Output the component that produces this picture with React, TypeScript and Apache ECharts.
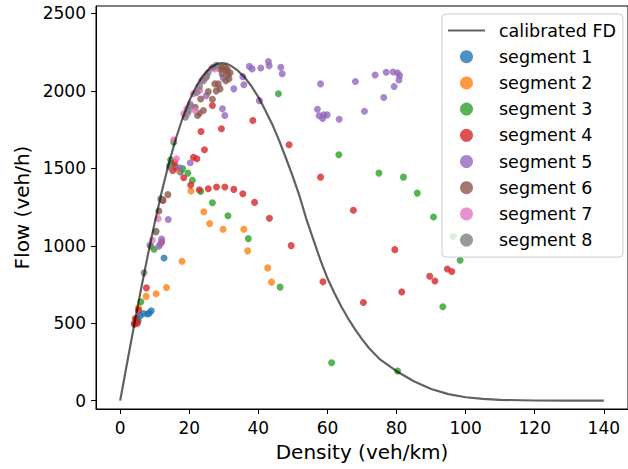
import React, { useEffect, useRef } from "react";
import * as echarts from "echarts";

// calibrated fundamental diagram curve
const fdDensity = [0, 2, 4, 6, 8, 10, 12, 14, 16, 18, 20, 22, 24, 26, 28, 29.5, 31, 32, 34, 36, 38, 40, 42, 44, 46, 48, 50, 52, 54, 56, 58, 60, 62, 64, 66, 68, 70, 72, 75, 80, 85, 90, 95, 100, 105, 110, 120, 130, 140];
const fdFlow = [0, 243, 483, 716, 939, 1150, 1346, 1524, 1683, 1820, 1936, 2029, 2100, 2148, 2174, 2180, 2174, 2163, 2132, 2088, 2030, 1960, 1875, 1785, 1680, 1565, 1445, 1315, 1165, 1035, 905, 790, 695, 608, 530, 460, 397, 340, 270, 190, 125, 75, 42, 22, 11, 5, 1, 0, 0];

const seg1: number[][] = [[12.7, 921], [9.0, 580], [7.9, 559], [6.7, 563], [5.8, 548], [4.9, 531], [17.4, 1476], [5.2, 515], [8.4, 565]];
const seg2: number[][] = [[20.5, 1353], [17.9, 900], [13.4, 731], [10.4, 690], [7.5, 673], [5.3, 600], [24.2, 1220], [25.9, 1143], [29.8, 1106], [35.8, 1106], [36.9, 967], [42.7, 857], [43.8, 765], [16.9, 1486], [4.5, 510]];
const seg3: number[][] = [[20.9, 1422], [23.3, 1351], [26.7, 1278], [31.2, 1194], [37.1, 1046], [46.3, 733], [9.8, 977], [6.0, 638], [4.1, 499], [19.6, 1469], [15.5, 1669], [14.6, 1555], [45.8, 1981], [14.4, 1520], [18.1, 1498], [63.3, 1588], [74.9, 1469], [82.0, 1443], [86.0, 1340], [90.7, 1186], [98.4, 907], [93.4, 606], [61.2, 245], [80.3, 191], [96.4, 1060], [4.6, 520], [15.0, 1530]];
const seg4: number[][] = [[48.9, 1652], [58.0, 1443], [67.5, 1229], [49.5, 1001], [58.7, 767], [70.4, 634], [79.5, 975], [81.5, 702], [89.6, 803], [91.1, 773], [94.7, 850], [96.0, 834], [15.2, 1486], [18.4, 1439], [20.4, 1392], [22.9, 1362], [25.5, 1368], [27.9, 1379], [30.3, 1379], [32.9, 1364], [35.5, 1336], [38.9, 1280], [43.2, 1177], [12.4, 1293], [12.0, 1024], [7.6, 728], [5.3, 584], [4.7, 509], [4.1, 494], [24.4, 1620], [21.2, 1572], [22.2, 1562], [16.0, 1508], [26.7, 1905], [23.4, 1738], [29.3, 1755], [38.4, 1809], [4.4, 530], [5.0, 500], [15.8, 1540]];
const seg5: number[][] = [[46.5, 2152], [46.9, 2110], [58.0, 2045], [68.1, 2060], [73.8, 2103], [77.0, 2120], [79.0, 2122], [80.3, 2116], [80.9, 2099], [80.7, 2071], [79.3, 2028], [76.3, 1957], [70.7, 1869], [57.1, 1881], [57.6, 1839], [58.6, 1822], [58.9, 1845], [59.9, 1845], [63.4, 1817], [37.4, 2158], [38.2, 2142], [40.7, 2148], [42.9, 2189], [43.1, 2163], [35.5, 2092], [32.9, 2013], [35.8, 2039], [40.3, 1937], [29.8, 2084], [24.9, 1968], [29.6, 1884], [30.3, 1841], [20.3, 1536], [17.2, 1504], [13.9, 1169], [12.0, 1044], [11.2, 997], [11.6, 1010]];
const seg6: number[][] = [[28.9, 2142], [30.3, 2152], [31.2, 2105], [30.6, 2066], [28.4, 2045], [28.9, 2013], [26.7, 1946], [23.3, 1948], [21.7, 1894], [22.9, 1856], [22.4, 1841], [24.1, 1873], [29.3, 2152], [27.4, 2045], [30.7, 2131], [31.8, 2117], [31.5, 2079], [29.5, 2111], [13.8, 1330], [12.2, 1298], [11.2, 1224], [10.4, 1093], [31.0, 2140], [27.8, 2000], [25.5, 1995]];
const seg7: number[][] = [[26.5, 2148], [25.0, 2099], [23.6, 2066], [22.7, 2006], [21.2, 1981], [20.3, 1916], [19.3, 1884], [21.7, 1873], [18.4, 1852], [27.4, 2142], [23.1, 2002], [19.5, 1852], [15.5, 1684], [11.0, 1175], [9.3, 1035], [16.3, 1562], [24.5, 2080]];
const seg8: number[][] = [[26.9, 2152], [25.5, 2118], [24.1, 2066], [22.1, 1988], [20.4, 1904], [18.9, 1830], [6.9, 825], [8.6, 1003], [10.3, 1089], [8.9, 997], [11.7, 1304], [14.3, 1508], [23.0, 2030], [25.0, 2090], [19.8, 1870], [27.8, 2165]];

const segments = [seg1, seg2, seg3, seg4, seg5, seg6, seg7, seg8];
const segmentNames = ["segment 1", "segment 2", "segment 3", "segment 4", "segment 5", "segment 6", "segment 7", "segment 8"];
const segmentColors = ["#1f77b4", "#ff7f0e", "#2ca02c", "#d62728", "#9467bd", "#8c564b", "#e377c2", "#7f7f7f"];
const curveName = "calibrated FD";

const xTicks = [0, 20, 40, 60, 80, 100, 120, 140];
const yTicks = [0, 500, 1000, 1500, 2000, 2500];

export default function App() {
  const ref = useRef<HTMLDivElement>(null);
  useEffect(() => {
    if (!ref.current) return;
    const chart = echarts.init(ref.current, null, { renderer: "svg" });
    const font = "DejaVu Sans";
    const tickFont = 17;
    chart.setOption({
      animation: false,
      grid: {
        left: 96, top: 6, width: 539, height: 403,
        show: true, borderColor: "#000", borderWidth: 1, backgroundColor: "transparent",
      },
      xAxis: {
        type: "value", min: -7, max: 147,
        axisLine: { show: true, onZero: false, lineStyle: { color: "#000", width: 1 } },
        axisTick: { show: true, inside: false, length: 5, customValues: xTicks, lineStyle: { color: "#000", width: 1 } },
        axisLabel: { customValues: xTicks, color: "#000", fontFamily: font, fontSize: tickFont, margin: 10, formatter: (v: number) => String(v) },
        splitLine: { show: false },
        name: "Density (veh/km)", nameLocation: "middle", nameGap: 33,
        nameTextStyle: { color: "#000", fontFamily: font, fontSize: 20 },
      },
      yAxis: {
        type: "value", min: -54, max: 2548,
        axisLine: { show: true, onZero: false, lineStyle: { color: "#000", width: 1 } },
        axisTick: { show: true, inside: false, length: 5, customValues: yTicks, lineStyle: { color: "#000", width: 1 } },
        axisLabel: { customValues: yTicks, color: "#000", fontFamily: font, fontSize: tickFont, margin: 10, formatter: (v: number) => String(v) },
        splitLine: { show: false },
        name: "Flow (veh/h)", nameLocation: "middle", nameGap: 52,
        nameTextStyle: { color: "#000", fontFamily: font, fontSize: 20 },
      },
      legend: {
        orient: "vertical", left: 442, top: 14,
        padding: [7.5, 7, 8, 6],
        itemWidth: 37, itemHeight: 13, itemGap: 8.2,
        backgroundColor: "rgba(255,255,255,0.8)", borderColor: "#cccccc", borderWidth: 1, borderRadius: 4,
        textStyle: { fontFamily: font, fontSize: 17.5, color: "#000", padding: [0, 0, 0, 9] },
        selectedMode: false,
        data: [
          {
            name: curveName,
            icon: "path://M0,0Z M0,5.4 L37,5.4 L37,7.6 L0,7.6 Z M37,13Z",
            itemStyle: { color: "#000", opacity: 0.62 },
          },
          ...segmentNames.map((n) => ({ name: n, icon: "circle" })),
        ],
      },
      series: [
        {
          name: curveName, type: "line", data: fdDensity.map((d, i) => [d, fdFlow[i]]),
          symbol: "none", smooth: false, silent: true,
          lineStyle: { color: "#000", width: 2.2, opacity: 0.62 },
          itemStyle: { color: "#000", opacity: 0.62 },
        },
        ...segments.map((s, i) => ({
          name: segmentNames[i], type: "scatter", data: s, symbolSize: 7, silent: true,
          itemStyle: { color: segmentColors[i], opacity: 0.8 },
        })),
      ],
    });
    return () => chart.dispose();
  }, []);
  return <div ref={ref} style={{ position: "absolute", left: 0, top: 0, width: 628, height: 469 }} />;
}
